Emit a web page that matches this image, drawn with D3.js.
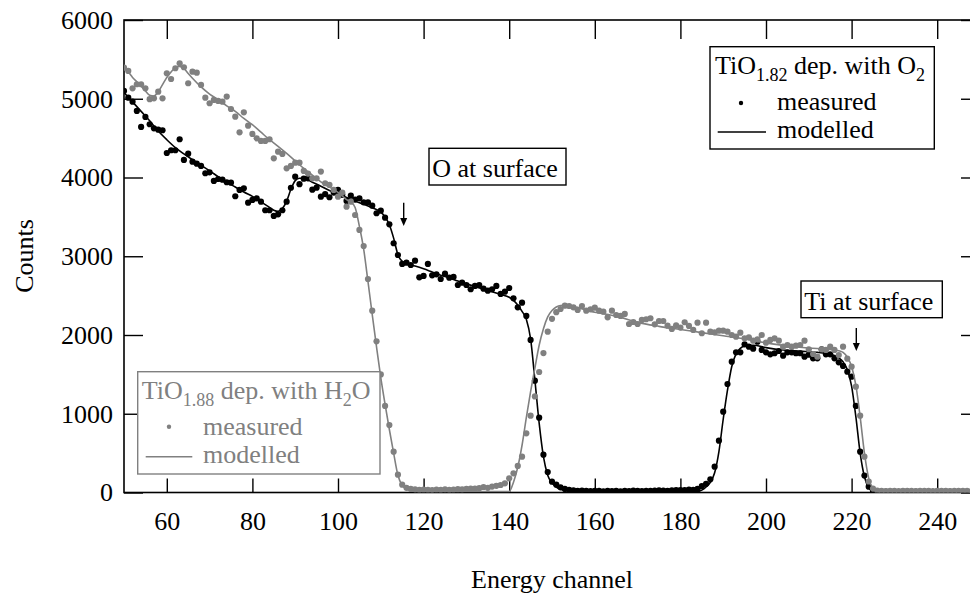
<!DOCTYPE html>
<html><head><meta charset="utf-8">
<script src="https://cdn.jsdelivr.net/npm/d3@7"></script>
<style>html,body{margin:0;padding:0;background:#fff;}svg{display:block;}</style>
</head><body><svg id="c" width="970" height="593"></svg>
<script>
// ---- data ----
const firstChannel = 50;
const xTickValues = [60, 80, 100, 120, 140, 160, 180, 200, 220, 240];
const yTickValues = [0, 1000, 2000, 3000, 4000, 5000, 6000];

// TiO1.82 deposited with O2 (black): measured counts, channels 50..250
const measuredO2 = [
 5100,5014,4963,4845,4642,4769,4676,4625,4607,4600,
 4311,4346,4346,4486,4223,4303,4201,4176,4147,4054,
 4066,3956,3981,3973,3940,3934,3762,3842,3863,3680,
 3715,3736,3693,3584,3584,3512,3533,3584,3693,3870,
 4010,3915,3985,3990,3846,3871,3757,3790,3749,3808,
 3842,3780,3702,3769,3720,3736,3685,3685,3642,3546,
 3579,3490,3406,3165,3016,2902,2918,2889,2944,2733,
 2750,2902,2758,2771,2711,2779,2728,2737,2635,2665,
 2635,2581,2623,2635,2588,2563,2581,2623,2521,2550,
 2597,2466,2352,2410,2242,1937,1420,950,480,260,
 137,100,66,45,35,28,22,25,20,18,
 22,20,15,20,18,22,15,20,18,25,
 20,18,22,20,25,28,25,22,28,30,
 32,30,38,35,45,80,110,168,328,658,
 1026,1378,1661,1780,1780,1882,1852,1826,1915,1810,
 1780,1755,1768,1797,1738,1780,1780,1768,1768,1725,
 1750,1704,1704,1819,1755,1755,1704,1653,1607,1534,
 1471,1099,518,215,74,23,12,10,10,8,
 10,8,10,12,8,10,10,8,10,8,
 10,8,10,10,8,10,8,10,10,8,
 10];

// TiO1.88 deposited with H2O (gray): measured counts, channels 50..250
const measuredH2O = [
 5395,5353,5133,5184,5184,5133,4994,5006,5090,5006,
 5324,5251,5387,5451,5400,5197,5344,5331,5175,5014,
 4943,4985,4972,4963,5027,4870,4773,4574,4828,4658,
 4553,4498,4464,4464,4486,4244,4328,4299,4117,4147,
 4188,4188,4083,4050,3990,3990,4075,3927,3906,3842,
 3757,3808,3630,3693,3524,3334,3130,2711,2309,1920,
 1500,1099,857,518,226,100,60,45,40,35,
 38,35,32,38,35,40,35,38,42,40,
 45,50,48,55,70,60,75,85,95,117,
 180,244,337,455,752,975,1220,1530,1770,2042,
 2205,2290,2330,2372,2368,2352,2318,2368,2309,2326,
 2347,2309,2296,2225,2309,2254,2242,2267,2140,2165,
 2140,2191,2200,2213,2136,2178,2178,2119,2077,2123,
 2094,2162,2115,2064,2157,2022,2157,2042,2034,2055,
 2055,2042,2000,1979,2029,1958,1971,1928,1945,2000,
 1903,1937,1958,1928,1852,1873,1852,1865,1873,1928,
 1819,1759,1725,1819,1810,1852,1810,1746,1852,1700,
 1598,1344,975,455,140,50,25,20,18,20,
 22,18,20,20,22,18,20,22,20,18,
 20,22,20,18,20,20,22,20,18,20,
 20];

// modelled curves (channel, counts)
const modelO2Channels = [50,52,54,56,58,60,62,64,66,68,70,72,74,76,78,80,82,84,85,86,87,88,89,90,91,92,94,96,98,100,102,104,106,108,110,111,112,113,114,115,116,118,120,122,124,126,128,130,132,134,136,138,140,141,142,143,144,145,146,147,148,149,150,151,152,154,156,184,185,186,187,188,189,190,191,192,193,194,195,197,200,204,208,212,216,217,218,219,220,221,222,223,224,225,226,250];
const modelO2Counts   = [5080,4960,4840,4720,4590,4480,4380,4300,4225,4155,4085,4010,3940,3880,3815,3760,3690,3620,3585,3570,3605,3700,3850,3960,3990,3990,3940,3890,3835,3795,3745,3700,3660,3615,3560,3500,3400,3230,3020,2935,2905,2875,2840,2800,2760,2725,2685,2650,2615,2580,2550,2515,2480,2440,2380,2300,2200,1950,1430,880,455,220,120,70,40,20,12,12,30,70,130,250,520,930,1300,1600,1760,1830,1860,1870,1840,1810,1795,1780,1740,1710,1660,1560,1350,960,500,200,60,15,5,5];

const modelH2OChannels = [50,51,52,53,54,55,56,57,58,59,60,61,62,63,64,65,66,68,70,72,74,76,78,80,82,84,86,88,90,92,94,96,98,100,102,103,104,105,106,107,108,109,110,111,112,113,114,115,116,117,118,140,141,142,143,144,145,146,147,148,149,150,151,152,153,155,160,165,170,175,180,185,190,195,200,205,210,215,217,218,219,220,221,222,223,224,225,226,250];
const modelH2OCounts   = [5390,5340,5270,5215,5160,5100,5045,5035,5090,5180,5270,5340,5395,5410,5385,5320,5260,5150,5060,4990,4910,4840,4750,4670,4575,4480,4395,4305,4210,4115,4030,3945,3880,3810,3720,3690,3620,3380,3090,2680,2260,1850,1460,1120,800,500,220,90,45,25,12,12,130,320,600,950,1280,1580,1870,2080,2230,2310,2355,2375,2378,2360,2290,2240,2160,2110,2070,2030,1990,1950,1900,1860,1835,1815,1800,1780,1720,1600,1360,960,500,180,50,12,5];

const grayColor = "#808080";
const FONT = 'Liberation Serif, Times New Roman, serif';

// ---- drawing ----
const svg = d3.select("#c");
const x = d3.scaleLinear().domain([50, 250]).range([124, 980]);
const y = d3.scaleLinear().domain([0, 6000]).range([492.5, 20]);

svg.append("defs").append("clipPath").attr("id","clip")
  .append("rect").attr("x",124).attr("y",20).attr("width",856).attr("height",472.5);

const FS = 26;

// axes (ticks inward)
const gB = svg.append("g").attr("transform","translate(0,492.5)")
  .call(d3.axisBottom(x).tickValues(xTickValues).tickSize(-14).tickFormat(d3.format("d")));
gB.selectAll("text").attr("y",37).attr("dy","0");
const gT = svg.append("g").attr("transform","translate(0,20)")
  .call(d3.axisTop(x).tickValues(xTickValues).tickSize(-19).tickFormat(""));
const gL = svg.append("g").attr("transform","translate(124,0)")
  .call(d3.axisLeft(y).tickValues(yTickValues).tickSize(-19).tickPadding(11).tickFormat(d3.format("d")));
const gR = svg.append("g").attr("transform","translate(980,0)")
  .call(d3.axisRight(y).tickValues(yTickValues).tickSize(-19).tickFormat(""));
[gB,gT,gL,gR].forEach(g=>{
  g.select(".domain").remove();
  g.selectAll(".tick line").attr("stroke","#000").attr("stroke-width",1.4);
  g.attr("font-family",FONT).attr("font-size",FS);
  g.selectAll("text").attr("fill","#000");
});
svg.append("rect").attr("x",124).attr("y",20).attr("width",856).attr("height",472.5)
  .attr("fill","none").attr("stroke","#000").attr("stroke-width",1.6);

const plot = svg.append("g").attr("clip-path","url(#clip)");
const line = d3.line().x(d=>x(d[0])).y(d=>y(d[1])).curve(d3.curveMonotoneX);

const mO2 = modelO2Channels.map((c,i)=>[c, modelO2Counts[i]]);
const mH2O = modelH2OChannels.map((c,i)=>[c, modelH2OCounts[i]]);
const dO2 = measuredO2.map((v,i)=>[firstChannel+i, v]);
const dH2O = measuredH2O.map((v,i)=>[firstChannel+i, v]);

plot.append("path").datum(mO2).attr("d",line).attr("fill","none").attr("stroke","#000").attr("stroke-width",1.6);
plot.append("g").selectAll("circle").data(dO2).join("circle")
  .attr("cx",d=>x(d[0])).attr("cy",d=>y(d[1])).attr("r",3.1).attr("fill","#000");
plot.append("path").datum(mH2O).attr("d",line).attr("fill","none").attr("stroke",grayColor).attr("stroke-width",1.6);
plot.append("g").selectAll("circle").data(dH2O).join("circle")
  .attr("cx",d=>x(d[0])).attr("cy",d=>y(d[1])).attr("r",3.1).attr("fill",grayColor);

// legend helper: subscripts shift down, following text shifts back up
function titleText(g, x0, yb, parts, color){
  const t = g.append("text").attr("x",x0).attr("y",yb).attr("fill",color)
    .attr("font-family",FONT).attr("font-size",FS);
  let prevSub = false;
  parts.forEach(p=>{
    const s = t.append("tspan").text(p.t);
    if(p.sub){ s.attr("font-size",18).attr("dy",7); prevSub = true; }
    else { if(prevSub) s.attr("dy",-7); prevSub = false; }
  });
}
function label(g, x0, yb, txt, color, anchor){
  return g.append("text").attr("x",x0).attr("y",yb).attr("fill",color||"#000")
    .attr("font-family",FONT).attr("font-size",FS).attr("text-anchor",anchor||"start").text(txt);
}
// legend O2 (black)
const L1 = svg.append("g");
L1.append("rect").attr("x",710).attr("y",46.7).attr("width",224.3).attr("height",102.3).attr("fill","#fff").attr("stroke","#000").attr("stroke-width",1.4);
titleText(L1, 715, 73.5, [{t:"TiO"},{t:"1.82",sub:true},{t:" dep. with O"},{t:"2",sub:true}], "#000");
L1.append("circle").attr("cx",741).attr("cy",103).attr("r",2.2).attr("fill","#000");
label(L1, 777, 110, "measured");
L1.append("line").attr("x1",717.7).attr("x2",766).attr("y1",132).attr("y2",132).attr("stroke","#000").attr("stroke-width",1.5);
label(L1, 777, 138, "modelled");

// legend H2O (gray)
const L2 = svg.append("g");
L2.append("rect").attr("x",137.7).attr("y",371.7).attr("width",242.3).attr("height",102.3).attr("fill","#fff").attr("stroke",grayColor).attr("stroke-width",1.4);
titleText(L2, 141.7, 398.5, [{t:"TiO"},{t:"1.88",sub:true},{t:" dep. with H"},{t:"2",sub:true},{t:"O"}], grayColor);
L2.append("circle").attr("cx",169).attr("cy",426.7).attr("r",2.2).attr("fill",grayColor);
label(L2, 203, 435, "measured", grayColor);
L2.append("line").attr("x1",145.7).attr("x2",192.3).attr("y1",456.7).attr("y2",456.7).attr("stroke",grayColor).attr("stroke-width",1.5);
label(L2, 203, 463.3, "modelled", grayColor);

// annotations
function note(x0,y0,w,h,txt,ax,ay1,ay2){
  const g = svg.append("g");
  g.append("rect").attr("x",x0).attr("y",y0).attr("width",w).attr("height",h).attr("fill","#fff").attr("stroke","#000").attr("stroke-width",1.4);
  label(g, x0+3.3, y0+28.7, txt);
  g.append("line").attr("x1",ax).attr("x2",ax).attr("y1",ay1).attr("y2",ay2-6).attr("stroke","#000").attr("stroke-width",1.4);
  g.append("path").attr("d",`M${ax-3.5},${ay2-8}L${ax+3.5},${ay2-8}L${ax},${ay2}Z`).attr("fill","#000");
}
note(429,148.3,137,36.7,"O at surface",403.7,202.7,226);
note(801,281,141.3,36.7,"Ti at surface",856.3,328,351);

// axis titles
label(svg, 552, 588, "Energy channel", "#000", "middle");
svg.append("text").attr("transform","translate(33,256) rotate(-90)").attr("text-anchor","middle")
  .attr("font-family",FONT).attr("font-size",FS).text("Counts");
</script></body></html>
